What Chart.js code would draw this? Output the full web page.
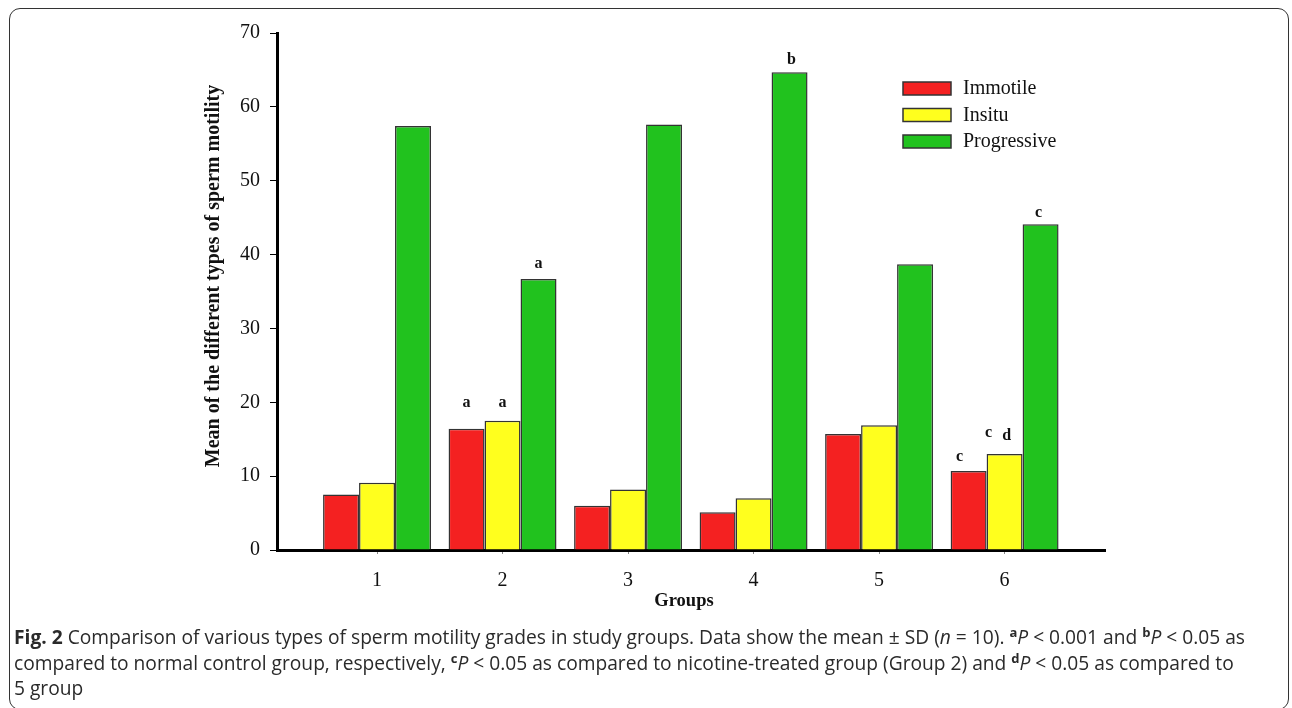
<!DOCTYPE html>
<html>
<head>
<meta charset="utf-8">
<script src="https://cdn.jsdelivr.net/npm/chart.js@4.4.1/dist/chart.umd.min.js"></script>
<style>
  html, body { margin: 0; padding: 0; background: #fff; }
  #wrap { position: relative; width: 1292px; height: 708px; overflow: hidden; }
  #frame { position: absolute; left: 9px; top: 8px; width: 1280px; height: 702px; border: 1.5px solid #333; border-radius: 11px; box-sizing: border-box; }
  canvas { position: absolute; left: 0; top: 0; }
  #caption { position: absolute; left: 14px; top: 624px; font-family: "Open Sans", sans-serif; font-size: 19.2px; line-height: 25.5px; color: #2a2a2a; white-space: nowrap; }
  #caption b { font-weight: 700; }
  #caption sup { font-weight: 700; font-size: 13px; vertical-align: 7px; line-height: 0; }
</style>
</head>
<body>
<div id="wrap">
  <div id="frame"></div>
  <canvas id="c" width="1292" height="708"></canvas>
  <div id="caption">
    <b>Fig. 2</b> Comparison of various types of sperm motility grades in study groups. Data show the mean ± SD (<i>n</i> = 10). <sup>a</sup><i>P</i> &lt; 0.001 and <sup>b</sup><i>P</i> &lt; 0.05 as<br>
    compared to normal control group, respectively, <sup>c</sup><i>P</i> &lt; 0.05 as compared to nicotine-treated group (Group 2) and <sup>d</sup><i>P</i> &lt; 0.05 as compared to<br>
    5 group
  </div>
</div>
<script>
// ---- Data ----
const groups = ['1', '2', '3', '4', '5', '6'];
const immotile = [7.5, 16.4, 6.0, 5.1, 15.7, 10.7];
const insitu = [9.1, 17.5, 8.2, 7.0, 16.9, 13.0];
const progressive = [57.4, 36.7, 57.6, 64.7, 38.7, 44.1];
const seriesNames = ['Immotile', 'Insitu', 'Progressive'];
const yTicks = [0, 10, 20, 30, 40, 50, 60, 70];
const annImmotile = ['', 'a', '', '', '', 'c'];
const annInsitu = ['', 'a', '', '', '', 'c d'];
const annProgressive = ['', 'a', '', 'b', '', 'c'];
const yTitle = 'Mean of the different types of sperm motility';
const xTitle = 'Groups';

const colors = ['#F42121', '#FFFF1E', '#21C21E'];
const SERIF = '"Liberation Serif", "Times New Roman", serif';

// letter placement style (pixel offsets from bar top-center): [dx, dy]
const letterStyle = {
  '0-1': [[0, -22]], '1-1': [[0, -14]], '2-1': [[0, -11]],
  '2-3': [[2, -8]],
  '0-5': [[-9, -10]], '1-5': [[-16, -17], [2, -14]], '2-5': [[-2, -7]]
};
const annotations = [annImmotile, annInsitu, annProgressive];

const overlay = {
  id: 'overlay',
  afterDraw(chart) {
    const ctx = chart.ctx;
    ctx.save();
    // letters
    ctx.fillStyle = '#111';
    ctx.font = 'bold 16px ' + SERIF;
    ctx.textAlign = 'center';
    ctx.textBaseline = 'alphabetic';
    annotations.forEach((arr, di) => {
      const meta = chart.getDatasetMeta(di);
      arr.forEach((txt, i) => {
        if (!txt) return;
        const bar = meta.data[i];
        const parts = txt.split(' ');
        const st = letterStyle[di + '-' + i] || [[0, -10]];
        parts.forEach((p, k) => {
          const o = st[k] || st[0];
          ctx.fillText(p, bar.x + o[0], bar.y + o[1]);
        });
      });
    });
    // legend
    const ds = chart.data.datasets;
    ctx.font = '20px ' + SERIF;
    ctx.textAlign = 'left';
    ctx.textBaseline = 'middle';
    ds.forEach((d, i) => {
      const y = 82 + i * 26.5;
      ctx.fillStyle = d.backgroundColor;
      ctx.fillRect(903, y, 48, 13);
      ctx.strokeStyle = '#333';
      ctx.lineWidth = 1.5;
      ctx.strokeRect(903, y, 48, 13);
      ctx.fillStyle = '#111';
      ctx.fillText(d.label, 963, y + 7);
    });
    // axis titles
    ctx.fillStyle = '#111';
    ctx.font = 'bold 18.5px ' + SERIF;
    ctx.textAlign = 'center';
    ctx.textBaseline = 'middle';
    ctx.fillText(xTitle, 684, 601);
    ctx.font = 'bold 20px ' + SERIF;
    ctx.translate(214, 276);
    ctx.rotate(-Math.PI / 2);
    ctx.fillText(yTitle, 0, 0);
    ctx.restore();
  }
};

new Chart(document.getElementById('c'), {
  type: 'bar',
  data: {
    labels: groups,
    datasets: [immotile, insitu, progressive].map((vals, i) => ({
      label: seriesNames[i],
      data: vals,
      backgroundColor: colors[i],
      borderColor: '#333',
      borderWidth: 1.5,
      barPercentage: 1,
      categoryPercentage: 0.86
    }))
  },
  options: {
    responsive: false,
    animation: false,
    layout: { padding: { top: 33, right: 187, left: 0, bottom: 0 } },
    plugins: { legend: { display: false }, tooltip: { enabled: false } },
    scales: {
      x: {
        type: 'linear',
        offset: false,
        min: 0.203,
        max: 6.8,
        afterFit(s) { s.height = 158; },
        afterBuildTicks(s) { s.ticks = groups.map(g => ({ value: +g })); },
        grid: { display: true, offset: false, drawOnChartArea: false, drawTicks: true, tickLength: 4, color: '#888', lineWidth: 1 },
        border: { display: true, color: '#000', width: 3 },
        ticks: { color: '#111', font: { family: SERIF, size: 20 }, padding: 15, maxRotation: 0, callback: v => String(v) }
      },
      y: {
        min: 0,
        max: 70,
        afterFit(s) { s.width = 277; },
        afterBuildTicks(s) { s.ticks = yTicks.map(v => ({ value: v })); },
        grid: { display: true, drawOnChartArea: false, drawTicks: true, tickLength: 7, color: '#000', lineWidth: 1 },
        border: { display: true, color: '#000', width: 3 },
        ticks: { color: '#111', font: { family: SERIF, size: 20 }, padding: 10 }
      }
    }
  },
  plugins: [overlay]
});
</script>
</body>
</html>
